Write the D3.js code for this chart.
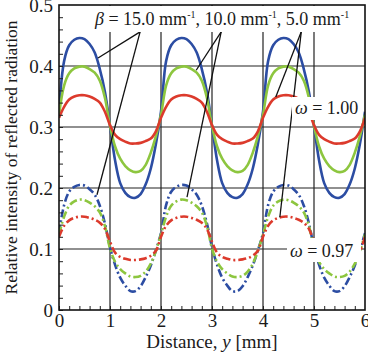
<!DOCTYPE html>
<html>
<head>
<meta charset="utf-8">
<script src="https://cdn.jsdelivr.net/npm/d3@7"></script>
<style>
  body { margin: 0; background: #fff; }
  svg text { font-family: 'Liberation Serif', 'Times New Roman', Times, 'DejaVu Serif', serif !important; fill: #1a1a1a; }
</style>
</head>
<body>
<svg width="368" height="359"></svg>
<script>
// distance y [mm], sampled every 0.1 mm
var distance = d3.range(0, 61).map(function(i) { return i / 10; });

// omega = 1.00 (solid)
var solid15 = [0.325,0.408,0.434,0.443,0.446,0.444,0.436,0.422,0.395,0.358,0.302,0.245,0.208,0.192,0.185,0.184,0.190,0.206,0.232,0.272,
               0.325,0.408,0.434,0.443,0.446,0.444,0.436,0.422,0.395,0.358,0.302,0.245,0.208,0.192,0.185,0.184,0.190,0.206,0.232,0.272,
               0.325,0.408,0.434,0.443,0.446,0.444,0.436,0.422,0.395,0.358,0.302,0.245,0.208,0.192,0.185,0.184,0.190,0.206,0.232,0.272,0.325];
var solid10 = [0.320,0.368,0.388,0.396,0.399,0.399,0.395,0.389,0.376,0.348,0.302,0.268,0.248,0.236,0.229,0.226,0.228,0.238,0.258,0.285,
               0.320,0.368,0.388,0.396,0.399,0.399,0.395,0.389,0.376,0.348,0.302,0.268,0.248,0.236,0.229,0.226,0.228,0.238,0.258,0.285,
               0.320,0.368,0.388,0.396,0.399,0.399,0.395,0.389,0.376,0.348,0.302,0.268,0.248,0.236,0.229,0.226,0.228,0.238,0.258,0.285,0.320];
var solid5  = [0.315,0.333,0.345,0.350,0.352,0.352,0.350,0.346,0.340,0.325,0.303,0.287,0.280,0.276,0.273,0.273,0.274,0.277,0.281,0.293,
               0.315,0.333,0.345,0.350,0.352,0.352,0.350,0.346,0.340,0.325,0.303,0.287,0.280,0.276,0.273,0.273,0.274,0.277,0.281,0.293,
               0.315,0.333,0.345,0.350,0.352,0.352,0.350,0.346,0.340,0.325,0.303,0.287,0.280,0.276,0.273,0.273,0.274,0.277,0.281,0.293,0.315];
// omega = 0.97 (dash-dot)
var dash15 = [0.126,0.172,0.194,0.202,0.205,0.204,0.198,0.189,0.171,0.142,0.103,0.074,0.053,0.040,0.031,0.031,0.039,0.054,0.073,0.098,
              0.126,0.172,0.194,0.202,0.205,0.204,0.198,0.189,0.171,0.142,0.103,0.074,0.053,0.040,0.031,0.031,0.039,0.054,0.073,0.098,
              0.126,0.172,0.194,0.202,0.205,0.204,0.198,0.189,0.171,0.142,0.103,0.074,0.053,0.040,0.031,0.031,0.039,0.054,0.073,0.098,0.126];
var dash10 = [0.124,0.153,0.171,0.178,0.181,0.180,0.176,0.170,0.160,0.138,0.101,0.079,0.067,0.060,0.055,0.054,0.056,0.063,0.076,0.097,
              0.124,0.153,0.171,0.178,0.181,0.180,0.176,0.170,0.160,0.138,0.101,0.079,0.067,0.060,0.055,0.054,0.056,0.063,0.076,0.097,
              0.124,0.153,0.171,0.178,0.181,0.180,0.176,0.170,0.160,0.138,0.101,0.079,0.067,0.060,0.055,0.054,0.056,0.063,0.076,0.097,0.124];
var dash5  = [0.120,0.138,0.147,0.151,0.153,0.153,0.151,0.148,0.143,0.133,0.112,0.094,0.087,0.084,0.082,0.082,0.083,0.085,0.089,0.097,
              0.120,0.138,0.147,0.151,0.153,0.153,0.151,0.148,0.143,0.133,0.112,0.094,0.087,0.084,0.082,0.082,0.083,0.085,0.089,0.097,
              0.120,0.138,0.147,0.151,0.153,0.153,0.151,0.148,0.143,0.133,0.112,0.094,0.087,0.084,0.082,0.082,0.083,0.085,0.089,0.097,0.120];

var xTicks = [0, 1, 2, 3, 4, 5, 6];
var yTicks = [0, 0.1, 0.2, 0.3, 0.4, 0.5];

var series = [
  {values: solid15, color: "#2c4da3", dash: null},
  {values: solid10, color: "#8dc63f", dash: null},
  {values: solid5,  color: "#dc3a2c", dash: null},
  {values: dash15,  color: "#2c4da3", dash: "8,3,2,3"},
  {values: dash10,  color: "#8dc63f", dash: "8,3,2,3"},
  {values: dash5,   color: "#dc3a2c", dash: "8,3,2,3"}
];

// leader lines: [from label, to curve] in data units
var leaders = [
  [[1.59, 0.456], [0.765, 0.413]], [[1.59, 0.456], [0.745, 0.189]],
  [[3.18, 0.456], [2.69, 0.393]],  [[3.18, 0.456], [2.51, 0.185]],
  [[4.75, 0.456], [4.25, 0.349]],  [[4.75, 0.456], [4.33, 0.152]]
];

(function() {
var svg = d3.select("svg").attr("font-family", "Liberation Serif"),
    pl = 59, pr = 365, pt = 5, pb = 310;

var x = d3.scaleLinear().domain([0, 6]).range([pl, pr]),
    y = d3.scaleLinear().domain([0, 0.5]).range([pb, pt]);

svg.append("clipPath").attr("id", "plot")
  .append("rect").attr("x", pl).attr("y", pt).attr("width", pr - pl).attr("height", pb - pt);

// grid
svg.append("g").selectAll("line").data(xTicks.slice(1, -1)).enter().append("line")
  .attr("x1", function(d) { return x(d); }).attr("x2", function(d) { return x(d); })
  .attr("y1", pt).attr("y2", pb)
  .attr("stroke", "#222").attr("stroke-width", 1.2);
svg.append("g").selectAll("line").data(yTicks.slice(1, -1)).enter().append("line")
  .attr("y1", function(d) { return y(d); }).attr("y2", function(d) { return y(d); })
  .attr("x1", pl).attr("x2", pr)
  .attr("stroke", "#222").attr("stroke-width", 1.2);

// curves
var line = d3.line()
  .x(function(d, i) { return x(distance[i]); })
  .y(function(d) { return y(d); })
  .curve(d3.curveCatmullRom);

svg.append("g").attr("clip-path", "url(#plot)")
  .selectAll("path").data(series).enter().append("path")
  .attr("d", function(d) { return line(d.values); })
  .attr("fill", "none")
  .attr("stroke", function(d) { return d.color; })
  .attr("stroke-width", 2.6)
  .attr("stroke-dasharray", function(d) { return d.dash; });

// leader lines
svg.append("g").selectAll("line").data(leaders).enter().append("line")
  .attr("x1", function(d) { return x(d[0][0]); }).attr("y1", function(d) { return y(d[0][1]); })
  .attr("x2", function(d) { return x(d[1][0]); }).attr("y2", function(d) { return y(d[1][1]); })
  .attr("stroke", "#111").attr("stroke-width", 1.3);

// label backgrounds
svg.append("rect").attr("x", 88).attr("y", pt + 1).attr("width", 272).attr("height", 26).attr("fill", "#fff");
svg.append("rect").attr("x", 292).attr("y", 97).attr("width", 69).attr("height", 23).attr("fill", "#fff");
svg.append("rect").attr("x", 287).attr("y", 238).attr("width", 74).attr("height", 24).attr("fill", "#fff");

var beta = svg.append("text").attr("x", 95).attr("y", 25).style("font-size", "18px");
beta.append("tspan").style("font-style", "italic").text("β");
beta.append("tspan").text(" = 15.0 mm");
beta.append("tspan").attr("dy", -7).style("font-size", "10px").text("-1");
beta.append("tspan").attr("dy", 7).text(", 10.0 mm");
beta.append("tspan").attr("dy", -7).style("font-size", "10px").text("-1");
beta.append("tspan").attr("dy", 7).text(", 5.0 mm");
beta.append("tspan").attr("dy", -7).style("font-size", "10px").text("-1");

var w1 = svg.append("text").attr("x", 295).attr("y", 114).style("font-size", "18px");
w1.append("tspan").style("font-style", "italic").text("ω");
w1.append("tspan").text(" = 1.00");

var w2 = svg.append("text").attr("x", 290).attr("y", 257).style("font-size", "18px");
w2.append("tspan").style("font-style", "italic").text("ω");
w2.append("tspan").text(" = 0.97");

// minor ticks, pointing inward
svg.append("g").attr("transform", "translate(0," + pb + ")")
  .call(d3.axisBottom(x).tickValues(d3.range(0, 30).map(function(i) { return i * 0.2; })).tickSize(-4).tickFormat(""))
  .call(function(g) { g.select(".domain").remove(); g.selectAll("line").attr("stroke", "#222"); });
svg.append("g").attr("transform", "translate(" + pl + ",0)")
  .call(d3.axisLeft(y).tickValues(d3.range(0, 25).map(function(i) { return i * 0.02; })).tickSize(-4).tickFormat(""))
  .call(function(g) { g.select(".domain").remove(); g.selectAll("line").attr("stroke", "#222"); });

// tick labels
svg.append("g").attr("transform", "translate(0," + pb + ")")
  .call(d3.axisBottom(x).tickValues(xTicks).tickSize(0).tickPadding(4).tickFormat(d3.format("d")))
  .call(function(g) {
    g.attr("font-family", null).attr("font-size", null);
    g.select(".domain").remove();
    g.selectAll("text").style("font-size", "19px");
  });
svg.append("g").attr("transform", "translate(" + pl + ",0)")
  .call(d3.axisLeft(y).tickValues(yTicks).tickSize(0).tickPadding(6)
    .tickFormat(function(d) { return d === 0 ? "0" : d3.format(".1f")(d); }))
  .call(function(g) {
    g.attr("font-family", null).attr("font-size", null);
    g.select(".domain").remove();
    g.selectAll("text").style("font-size", "19px");
  });

// frame
svg.append("rect").attr("x", pl).attr("y", pt).attr("width", pr - pl).attr("height", pb - pt)
  .attr("fill", "none").attr("stroke", "#111").attr("stroke-width", 1.6);

// axis titles
var xt = svg.append("text").attr("x", 212).attr("y", 348)
  .attr("text-anchor", "middle").style("font-size", "19px");
xt.append("tspan").text("Distance, ");
xt.append("tspan").style("font-style", "italic").text("y");
xt.append("tspan").text(" [mm]");

svg.append("text").attr("transform", "translate(17," + ((pt + pb) / 2) + ") rotate(-90)")
  .attr("text-anchor", "middle").style("font-size", "17.5px")
  .text("Relative intensity of reflected radiation");
})();
</script>
</body>
</html>
